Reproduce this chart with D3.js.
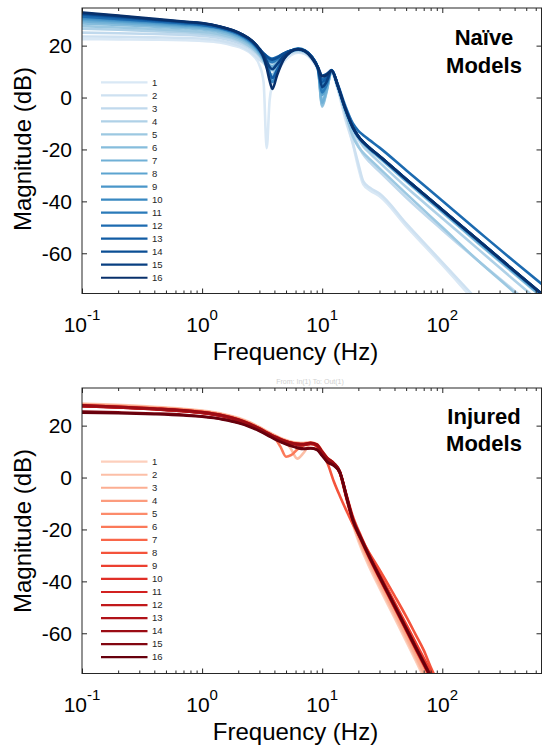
<!DOCTYPE html>
<html>
<head>
<meta charset="utf-8">
<script src="https://cdn.jsdelivr.net/npm/d3@7"></script>
<style>
  body { margin: 0; background: #fff; }
  text { font-family: "Liberation Sans", Arial, Helvetica, sans-serif; }
</style>
</head>
<body>
<svg id="fig" width="542" height="751"></svg>
<script>
// ---------- data ----------
// Frequencies (Hz) at which the naive-model magnitude responses are sampled
const naiveFreq = [0.1, 0.2, 0.4, 0.7, 1, 1.4, 1.8, 2.2, 2.6, 3.0, 3.25, 3.45, 3.65, 3.85, 4.2, 4.8, 5.5, 6.3,
  7.2, 8.2, 9.2, 10, 10.8, 12, 13.5, 15.5, 18, 20, 22, 25, 30, 50, 100, 200, 400, 700];

// Magnitude (dB) of the 16 naive models
const naiveMag = [
  [22.5, 22.4, 22.3, 22.1, 21.8, 21.2, 20.1, 18.8, 16.6, 12.5, 6, -19.5, -1, 5, 9.5, 13.8, 16.3, 17.3, 16.8, 14.5, 10.5, 5, 5.5, 9.3, 3, -8, -18, -27, -33.5, -35.8, -38, -49.5, -64.5, -80, -95, -105],
  [23.5, 23.4, 23.2, 23, 22.7, 22, 20.8, 19.3, 17.2, 14.6, 13.3, 12.5, 12, 12.3, 13.5, 15.6, 17, 17.5, 17, 14.8, 10.8, 3, 4, 9.6, 3.5, -7, -17.5, -25.5, -32.3, -34.8, -37, -48.5, -63.5, -78.5, -94, -104],
  [25, 24.8, 24.5, 24.2, 23.8, 23, 21.8, 20.3, 18.3, 15.8, 14, 12.5, 11.3, 11, 12.8, 15.5, 17.2, 17.8, 17.3, 15, 11, 1, 3, 9.8, 4, -5.5, -14, -18.5, -22, -25, -28.5, -38.5, -51, -63, -74.5, -84],
  [26.5, 26.1, 25.6, 25.1, 24.6, 23.8, 22.6, 21, 19, 16.5, 15, 14, 13.3, 13.2, 14.2, 16.2, 17.6, 18.1, 17.5, 15.2, 11.2, -1, 2.5, 10, 4.2, -4.5, -12.5, -16, -18.8, -21.5, -25, -34.5, -46.5, -58.5, -70.5, -80],
  [27.5, 27, 26.4, 25.8, 25.3, 24.4, 23.1, 21.4, 19.2, 16.3, 14, 11.5, 9.5, 9, 11.5, 15.3, 17.6, 18.3, 17.6, 15.3, 11, -3.5, 1.5, 10, 3.5, -5.5, -15, -19, -21.3, -23.8, -27.3, -37, -50, -63, -75.2, -85.5],
  [28.5, 28, 27.3, 26.7, 26.2, 25.2, 23.8, 22, 19.8, 16.8, 14.5, 12.5, 11, 10.5, 12.3, 15.6, 17.8, 18.5, 17.8, 15.4, 11.2, -3, 2, 10.2, 4.2, -4.5, -12, -15.5, -17.8, -20.2, -23.3, -32.3, -44.2, -56.2, -68, -77.5],
  [29.3, 28.7, 28, 27.3, 26.8, 25.8, 24.4, 22.6, 20.3, 17.3, 15.3, 13.7, 12.4, 12, 13.4, 16.2, 18, 18.8, 18, 15.6, 11.4, -2, 2.5, 10.3, 4.3, -4.3, -11.8, -15.3, -17.6, -20, -23, -32, -43.8, -55.8, -67.6, -77],
  [30, 29.3, 28.5, 27.8, 27.3, 26.3, 24.8, 23, 20.7, 17.5, 15, 12.3, 9.5, 8, 10.8, 15.2, 17.9, 19, 18.2, 15.7, 11.5, 1, 4, 10.4, 4.4, -4.2, -11.7, -15.2, -17.5, -19.9, -22.9, -31.8, -43.6, -55.5, -67.3, -76.8],
  [30.5, 29.7, 28.9, 28.1, 27.6, 26.6, 25.1, 23.3, 21, 18, 16.5, 15.3, 14.5, 14.2, 15, 16.8, 18.1, 18.7, 18, 15.6, 11.5, 3, 5, 10.3, 4.4, -4.2, -11.6, -15.1, -17.4, -19.8, -22.8, -31.7, -43.5, -55.4, -67.2, -76.7],
  [31, 30.1, 29.2, 28.4, 27.9, 26.8, 25.3, 23.5, 21.2, 18, 15.2, 12, 8.3, 6, 9.8, 14.9, 17.8, 18.5, 17.9, 15.5, 11.4, 5, 6.5, 10.4, 4.5, -4.1, -11.6, -15.1, -17.3, -19.7, -22.7, -31.6, -43.4, -55.2, -67, -76.5],
  [31.5, 30.5, 29.5, 28.7, 28.1, 27, 25.5, 23.7, 21.4, 18.3, 16.4, 14.9, 13.9, 13.6, 14.6, 16.7, 18.1, 18.6, 17.9, 15.5, 11.4, 2, 4.5, 10.4, 4.5, -4, -11.5, -15, -17.2, -19.6, -22.6, -31.5, -43.3, -55.1, -66.9, -76.4],
  [31.2, 30.3, 29.4, 28.6, 28, 26.9, 25.4, 23.6, 21.4, 18.5, 17, 16, 15.3, 15, 15.6, 17, 18, 18.4, 17.8, 15.5, 11.6, 7, 8, 10.6, 5, -3, -10, -12.8, -14.5, -16.5, -19.3, -28, -39.8, -51.6, -63.3, -72.5],
  [32, 30.9, 29.8, 29, 28.4, 27.2, 25.7, 23.9, 21.6, 18.4, 15.8, 12.8, 9.6, 7.5, 10.5, 15.1, 17.8, 18.8, 18.1, 15.6, 11.5, 6, 7.2, 10.5, 4.5, -4, -11.5, -15, -17.2, -19.6, -22.6, -31.5, -43.3, -55.1, -66.9, -76.4],
  [32.3, 31.2, 30, 29.1, 28.5, 27.3, 25.8, 24, 21.8, 18.8, 17, 15.8, 14.9, 14.6, 15.3, 17, 18.1, 18.6, 18, 15.7, 11.8, 8.5, 9, 10.5, 4.6, -3.9, -11.4, -14.9, -17.1, -19.5, -22.5, -31.4, -43.2, -55, -66.8, -76.3],
  [32.5, 31.4, 30.1, 29.2, 28.6, 27.4, 25.9, 24.1, 21.9, 18.8, 16.5, 14, 11.8, 11, 12.8, 16, 18, 18.7, 18, 15.6, 11.5, 4, 5.8, 10.4, 4.5, -4, -11.5, -15, -17.2, -19.6, -22.6, -31.5, -43.3, -55.1, -66.9, -76.4],
  [32.8, 31.6, 30.3, 29.3, 28.7, 27.4, 25.9, 24.1, 21.9, 18.6, 15.5, 11.5, 6.5, 3.3, 8.5, 14.8, 17.7, 18.6, 17.8, 15.2, 11.5, 8.2, 8.6, 10.3, 4.5, -4, -11.5, -15, -17.2, -19.5, -22.5, -31.5, -43.2, -55, -66.8, -76.3]
];

// Frequencies (Hz) at which the injured-model magnitude responses are sampled
const injuredFreq = [0.1, 0.2, 0.4, 0.7, 1, 1.5, 2, 2.5, 3, 3.5, 4, 4.5, 5, 5.5, 6.2, 7, 8, 9, 10, 11, 12.5, 14,
  16, 18, 21, 25, 30, 40, 50, 60, 70, 80, 100];

// Magnitude (dB) of the 16 injured models
const injuredMag = [
  [28.5, 28, 27.3, 26.5, 25.8, 24.5, 23, 21.3, 19.5, 17.8, 16.4, 15.3, 14.5, 13.9, 13.5, 13.4, 13.6, 13, 10.3, 7.8, 5.5, 1.5, -9, -18, -27, -35, -42.5, -54, -63, -70.5, -77, -82.5, -92],
  [28.3, 27.8, 27.1, 26.3, 25.6, 24.3, 22.8, 21.1, 19.3, 17.6, 16.2, 15, 13.6, 11, 7.3, 9.5, 12.8, 12.8, 10.1, 7.6, 5.4, 1.5, -8.5, -17.5, -26, -34, -41.5, -53, -62, -69.5, -76, -81.5, -91],
  [28.2, 27.7, 27, 26.3, 25.6, 24.3, 22.8, 21.1, 19.3, 17.6, 16.2, 15.1, 14.3, 13.7, 13.3, 13.2, 13.5, 12.9, 10.2, 7.6, 5.5, 2, -8, -17, -25.5, -33, -40.5, -52, -61, -68.5, -75, -80.5, -90],
  [28, 27.5, 26.8, 26.1, 25.4, 24.1, 22.6, 20.9, 19.1, 17.4, 16, 15, 14.2, 13.6, 13.1, 13, 13.4, 12.8, 10, 7.5, 5.5, 2, -7.8, -16.5, -24.5, -32, -39.3, -50.5, -59.5, -67, -73, -78.5, -88],
  [27.9, 27.4, 26.7, 26, 25.3, 24, 22.5, 20.8, 19, 17.3, 15.9, 14.9, 14.1, 13.5, 13, 12.9, 13.3, 12.7, 9.9, 7.5, 5.5, 2, -7.5, -16, -24, -31.5, -38.8, -50, -59, -66.3, -72.5, -77.8, -87],
  [27.8, 27.3, 26.6, 25.9, 25.2, 23.9, 22.4, 20.7, 18.9, 17.2, 15.5, 11.8, 8, 8.6, 10.8, 12.4, 13.3, 12.7, 9.9, 7.4, 5.4, 2, -8, -16.5, -23.5, -31, -38.3, -49.5, -58.3, -65.5, -71.5, -76.8, -86],
  [27.7, 27.2, 26.5, 25.8, 25.1, 23.8, 22.3, 20.6, 18.8, 17.1, 15.7, 14.7, 13.9, 13.3, 12.8, 12.7, 13.1, 12.5, 9.7, 7.3, 5.3, 2, -7.5, -16, -23, -30.3, -37.5, -48.5, -57.3, -64.5, -70.5, -75.8, -85],
  [27.6, 27.1, 26.4, 25.7, 25, 23.7, 22.2, 20.5, 18.7, 17, 15.6, 14.6, 13.8, 13.2, 12.8, 12.7, 13, 12, 9, 5.8, -1.5, -7, -13, -18, -23.5, -29.5, -35.5, -45.5, -53.5, -60.5, -66.5, -73, -82],
  [27.7, 27.2, 26.5, 25.8, 25.1, 23.8, 22.3, 20.6, 18.8, 17.1, 15.7, 14.7, 13.9, 13.4, 13, 12.9, 13.3, 12.7, 9.9, 7.4, 5.5, 2.3, -7, -15, -22.5, -30, -37, -48, -56.5, -63.5, -69.5, -74.5, -84],
  [27.8, 27.3, 26.6, 25.9, 25.2, 23.9, 22.4, 20.7, 18.9, 17.2, 15.8, 14.8, 14, 13.4, 12.9, 12.8, 13.2, 12.6, 9.8, 7.4, 5.4, 2, -8, -16.5, -23.5, -31, -38.3, -49.5, -58.3, -65.5, -71.5, -76.8, -86],
  [27.6, 27.1, 26.4, 25.7, 25, 23.7, 22.2, 20.5, 18.7, 17, 15.6, 14.6, 13.8, 13.3, 12.9, 12.8, 13.2, 12.6, 9.7, 7.2, 5.3, 2, -8.2, -16.8, -24, -31.5, -38.8, -50, -58.8, -66, -72, -77.3, -86.5],
  [27.5, 27, 26.3, 25.6, 24.9, 23.6, 22.1, 20.4, 18.6, 16.9, 15.5, 14.5, 13.7, 13.2, 12.8, 12.7, 13.1, 12.5, 9.6, 7.1, 5.2, 2, -8, -16.5, -23.8, -31.2, -38.5, -49.8, -58.5, -65.8, -71.8, -77, -86.3],
  [27.5, 27, 26.3, 25.6, 24.9, 23.6, 22.1, 20.4, 18.6, 16.9, 15.5, 14.5, 13.7, 13.1, 12.6, 12.5, 12.9, 12.3, 9.5, 7, 5.2, 2.2, -7.5, -16, -23.3, -30.7, -38, -49.2, -58, -65.2, -71.2, -76.5, -85.8],
  [27.8, 27.3, 26.6, 25.9, 25.2, 23.9, 22.4, 20.7, 18.9, 17.2, 15.8, 14.8, 14, 13.4, 13, 12.9, 13.4, 12.8, 10, 7.6, 5.6, 2.5, -7.2, -15.8, -23, -30.5, -37.8, -49, -57.8, -65, -71, -76.2, -85.5],
  [25.4, 25.1, 24.7, 24.2, 23.6, 22.5, 21.2, 19.7, 18.1, 16.5, 15, 13.9, 13, 12.3, 11.6, 11.2, 11.4, 10.9, 8.6, 6.3, 4.8, 2.2, -7.6, -16.2, -23.3, -30.8, -38, -49.3, -58, -65.3, -71.3, -76.5, -85.8],
  [25, 24.8, 24.4, 23.9, 23.4, 22.3, 21, 19.5, 17.9, 16.3, 14.8, 13.7, 12.8, 12.1, 11.4, 11, 11.2, 10.7, 8.3, 6, 4.5, 2, -7.8, -16.5, -23.6, -31, -38.3, -49.5, -58.3, -65.5, -71.5, -76.8, -86]
];

const legendLabels = ["1", "2", "3", "4", "5", "6", "7", "8", "9", "10", "11", "12", "13", "14", "15", "16"];
const magTicks = [-60, -40, -20, 0, 20];
const decadeExponents = ["-1", "0", "1", "2"];
const freqDomain = [0.1, 670];
const magDomain = [-75.5, 34.5];

// ---------- drawing ----------
const svg = d3.select("#fig");
svg.append("rect").attr("width", 542).attr("height", 751).attr("fill", "#fff");

const AX = "#262626";
const X0 = 82, X1 = 541.5;

const x = d3.scaleLog().domain(freqDomain).range([X0, X1]);

function drawPanel(opts) {
  const { id, top, bottom, freq, mags, color, titleLines, titleBaselines, legendTop, labelCenterY } = opts;
  const y = d3.scaleLinear().domain(magDomain).range([bottom, top]);
  const g = svg.append("g");

  g.append("clipPath").attr("id", "clip-" + id)
    .append("rect").attr("x", X0).attr("y", top).attr("width", X1 - X0).attr("height", bottom - top);

  const line = d3.line()
    .x(d => x(d[0]))
    .y(d => y(d[1]))
    .curve(d3.curveMonotoneX);

  const curves = g.append("g").attr("clip-path", `url(#clip-${id})`);
  mags.forEach((vals, i) => {
    curves.append("path")
      .attr("d", line(freq.map((f, j) => [f, vals[j]])))
      .attr("fill", "none")
      .attr("stroke", color(i))
      .attr("stroke-width", 2.6)
      .attr("stroke-linejoin", "round");
  });

  // log-frequency ticks (major at decades, minor in between), pointing inward
  const all = x.ticks();
  const isDecade = v => Math.abs(Math.log10(v) - Math.round(Math.log10(v))) < 1e-9;
  const major = all.filter(isDecade);
  const minor = all.filter(v => !isDecade(v));

  const styleAxis = sel => {
    sel.select(".domain").remove();
    sel.selectAll("line").attr("stroke", AX).attr("stroke-width", 1);
  };

  [[d3.axisBottom, bottom], [d3.axisTop, top]].forEach(([mk, yy]) => {
    g.append("g").attr("transform", `translate(0,${yy})`)
      .call(mk(x).tickValues(minor).tickSize(-3).tickFormat(""))
      .call(styleAxis);
    g.append("g").attr("transform", `translate(0,${yy})`)
      .call(mk(x).tickValues(major).tickSize(-5).tickFormat(""))
      .call(styleAxis);
  });

  // magnitude ticks, left with labels, right without
  const left = g.append("g").attr("transform", `translate(${X0},0)`)
    .call(d3.axisLeft(y).tickValues(magTicks).tickSize(-5).tickPadding(10).tickFormat(d => String(d)))
    .call(styleAxis);
  left.selectAll("text")
    .attr("font-size", 21).attr("fill", "#000")
    .attr("font-family", "'Liberation Sans', Arial, sans-serif");

  g.append("g").attr("transform", `translate(${X1},0)`)
    .call(d3.axisRight(y).tickValues(magTicks).tickSize(-5).tickFormat(""))
    .call(styleAxis);

  // box
  g.append("rect")
    .attr("x", X0).attr("y", top).attr("width", X1 - X0).attr("height", bottom - top)
    .attr("fill", "none").attr("stroke", AX).attr("stroke-width", 1);

  // decade labels 10^n
  decadeExponents.forEach(e => {
    const t = g.append("text")
      .attr("x", x(Math.pow(10, +e)))
      .attr("y", bottom + 38.5)
      .attr("text-anchor", "middle")
      .attr("font-size", 21)
      .attr("fill", "#000");
    t.append("tspan").text("10");
    t.append("tspan").attr("dy", -12).attr("font-size", 15).text(e);
  });

  // axis titles
  g.append("text")
    .attr("x", 295.5).attr("y", bottom + 66.5)
    .attr("text-anchor", "middle").attr("font-size", 24).attr("fill", "#000")
    .text("Frequency (Hz)");
  g.append("text")
    .attr("transform", `translate(31,${labelCenterY}) rotate(-90)`)
    .attr("text-anchor", "middle").attr("font-size", 24).attr("fill", "#000")
    .text("Magnitude (dB)");

  // panel title
  titleLines.forEach((s, k) => {
    g.append("text")
      .attr("x", 484).attr("y", titleBaselines[k])
      .attr("text-anchor", "middle").attr("font-size", 22).attr("font-weight", "bold").attr("fill", "#000")
      .text(s);
  });

  // legend
  const step = 13.03;
  legendLabels.forEach((lab, i) => {
    const yy = legendTop + i * step;
    g.append("line")
      .attr("x1", 101).attr("x2", 147.5).attr("y1", yy).attr("y2", yy)
      .attr("stroke", color(i)).attr("stroke-width", 2.2);
    g.append("text")
      .attr("x", 152).attr("y", yy).attr("dy", "0.35em")
      .attr("font-size", 9.5).attr("fill", "#262626")
      .text(lab);
  });
}

const blue = i => d3.interpolateBlues(0.15 + i * (0.85 / 15));
const red = i => d3.interpolateReds(0.18 + i * (0.82 / 15));

drawPanel({
  id: "naive", top: 8, bottom: 293.5, freq: naiveFreq, mags: naiveMag, color: blue,
  titleLines: ["Naïve", "Models"], titleBaselines: [45, 72.5], legendTop: 82.3, labelCenterY: 149
});

drawPanel({
  id: "injured", top: 388, bottom: 673.5, freq: injuredFreq, mags: injuredMag, color: red,
  titleLines: ["Injured", "Models"], titleBaselines: [423.5, 451], legendTop: 461.7, labelCenterY: 531
});

// faint input/output caption above the lower panel
svg.append("text")
  .attr("x", 310).attr("y", 384)
  .attr("text-anchor", "middle").attr("font-size", 7).attr("fill", "#d0d0d0")
  .text("From: In(1)  To: Out(1)");
</script>
</body>
</html>
